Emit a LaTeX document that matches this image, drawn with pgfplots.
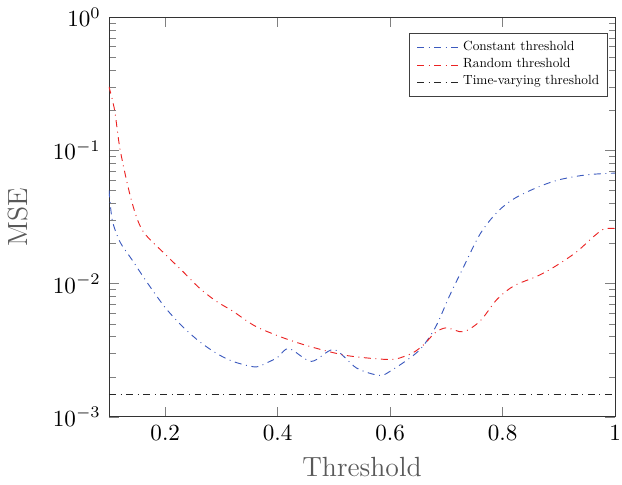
\documentclass[border=0pt]{standalone}
\usepackage{graphicx}
\usepackage{pgfplots}
\pgfplotsset{compat=1.18}
\definecolor{cblue}{RGB}{60,90,190}
\definecolor{cred}{RGB}{235,35,35}
\newcommand{\leg}[1]{\scalebox{0.575}{\normalsize #1}}
\begin{document}
\begin{tikzpicture}
\begin{semilogyaxis}[
    scale only axis,
    width=219pt, height=173pt,
    xmin=0.1, xmax=1,
    ymin=1e-3, ymax=1,
    xtick={0.2,0.4,0.6,0.8,1},
    xticklabels={0.2,0.4,0.6,0.8,1},
    xlabel={Threshold},
    ylabel={MSE},
    ylabel shift=4pt,
    label style={font=\large, text=black!65},
    axis line style={black!80},
    legend style={font=\tiny, at={(0.985,0.96)}, anchor=north east,
        draw=black!75, row sep=1.1pt, inner sep=3pt, nodes={inner sep=0.4pt}},
    legend image code/.code={\draw[#1] (0cm,0cm) -- (0.68cm,0cm);},
    legend cell align=left,
]
\addplot[cblue, dashdotted, smooth] coordinates {
(0.10,0.0501) (0.106,0.0297) (0.12,0.0204) (0.14,0.0153) (0.17,0.00989)
(0.20,0.00661) (0.23,0.0048) (0.26,0.0037) (0.29,0.00302) (0.32,0.00261)
(0.36,0.00237) (0.38,0.00254) (0.40,0.0028) (0.42,0.00326) (0.46,0.00261)
(0.50,0.0032) (0.54,0.00233) (0.58,0.00205) (0.60,0.0022) (0.65,0.00311)
(0.68,0.00466) (0.705,0.0080) (0.73,0.0132) (0.76,0.0236) (0.79,0.0343)
(0.82,0.0433) (0.86,0.0524) (0.90,0.0601) (0.95,0.0656) (1.00,0.0675)
};
\addlegendentry{\leg{Constant threshold}}
\addplot[cred, dashdotted, smooth] coordinates {
(0.10,0.30) (0.11,0.20) (0.12,0.10) (0.14,0.042) (0.16,0.0249)
(0.20,0.0166) (0.23,0.0125) (0.26,0.00933) (0.29,0.00741) (0.32,0.00622)
(0.36,0.0048) (0.41,0.00392) (0.46,0.00335) (0.52,0.0029) (0.58,0.00272)
(0.61,0.00272) (0.64,0.00302) (0.66,0.00349) (0.68,0.00428) (0.70,0.00466)
(0.73,0.00435) (0.76,0.00524) (0.79,0.00762) (0.82,0.00962) (0.86,0.0113)
(0.89,0.0132) (0.93,0.0171) (0.96,0.0222) (0.98,0.0257) (1.00,0.0259)
};
\addlegendentry{\leg{Random threshold}}
\addplot[black!85, dashdotted] coordinates {
(0.10,0.00147) (1.00,0.00147)
};
\addlegendentry{\leg{Time-varying threshold}}
\end{semilogyaxis}
\pgfresetboundingbox
\path (current axis.outer south west) rectangle
    ([xshift=3pt]current axis.north east |- current axis.outer north east);
\end{tikzpicture}
\end{document}
